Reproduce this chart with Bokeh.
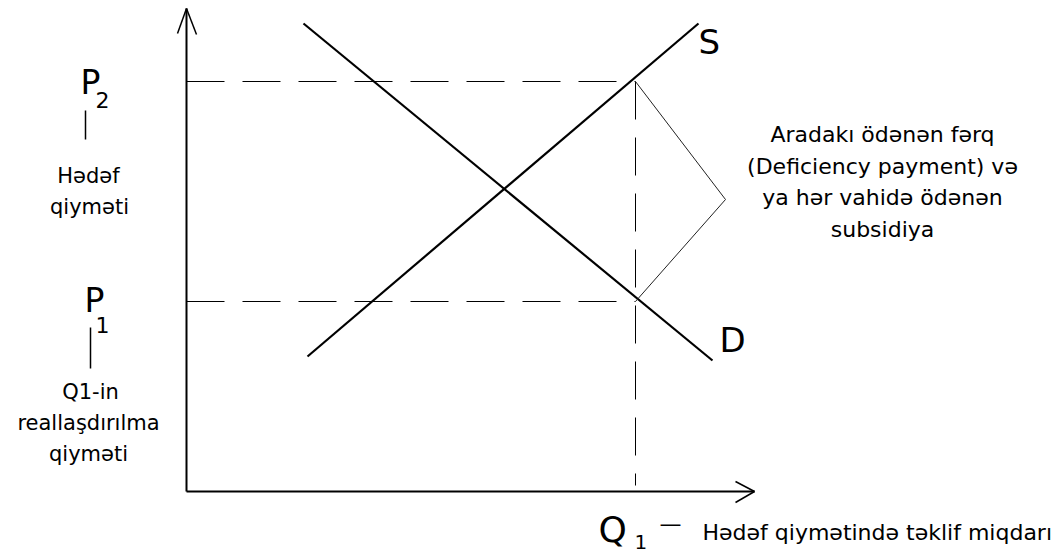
from bokeh.plotting import figure
from bokeh.models import Range1d
from bokeh.core.properties import value
from bokeh.embed import file_html
from bokeh.resources import INLINE

# ---- chart values (quantity horizontally, price vertically; origin = axis corner) ----
q_axis_end = 568
p_axis_end = 483
Q1 = 449
P1 = 190
P2 = 410
supply_q = [121, 512]
supply_p = [135, 468]
demand_q = [117, 526]
demand_p = [468, 131]
bracket_q = [449, 539, 449]
bracket_p = [410, 292, 190]

label_S = "S"
label_D = "D"
label_P = "P"
label_Q = "Q"
sub_P2 = "2"
sub_P1 = "1"
sub_Q1 = "1"
p2_text = ["Hədəf", "qiyməti"]
p1_text = ["Q1-in", "reallaşdırılma", "qiyməti"]
q1_text = "Hədəf qiymətində təklif miqdarı"
note_text = ["Aradakı ödənən fərq", "(Deficiency payment) və", "ya hər vahidə ödənən", "subsidiya"]

FONT = value("DejaVu Sans")

p = figure(width=1061, height=558, output_backend="svg", toolbar_location=None,
           x_axis_type=None, y_axis_type=None, min_border=0,
           x_range=Range1d(-186, 875), y_range=Range1d(-67, 491))
p.outline_line_color = None
p.background_fill_color = "white"
p.border_fill_color = "white"

# axes with open arrows
p.line([0, 0], [0, p_axis_end], line_color="black", line_width=2)
p.line([0, q_axis_end], [0, 0], line_color="black", line_width=2)
p.segment(x0=[0, 0], y0=[p_axis_end, p_axis_end], x1=[-9, 10], y1=[p_axis_end - 25, p_axis_end - 26],
          line_color="black", line_width=1.5)
p.segment(x0=[q_axis_end, q_axis_end], y0=[0, 0], x1=[q_axis_end - 19, q_axis_end - 19], y1=[10, -11],
          line_color="black", line_width=1.5)

# dashed guide lines
p.line([0, Q1], [P2, P2], line_color="black", line_width=1, line_dash="38 18")
p.line([0, Q1], [P1, P1], line_color="black", line_width=1, line_dash="38 18")
p.line([Q1, Q1], [P2, 6], line_color="black", line_width=1, line_dash="38 18")

# supply and demand
p.line(supply_q, supply_p, line_color="black", line_width=2.2)
p.line(demand_q, demand_p, line_color="black", line_width=2.2)

# bracket
p.line(bracket_q, bracket_p, line_color="#222222", line_width=1)

# big letters
p.text(x=[512, 533], y=[450, 152], text=[label_S, label_D], text_font=FONT,
       text_font_size="34px", text_baseline="alphabetic", text_align="left", text_color="black")
p.text(x=[-106, -102], y=[409, 191], text=[label_P, label_P], text_font=FONT,
       text_font_size="33px", text_baseline="alphabetic", text_align="left", text_color="black")
p.text(x=[-91, -91], y=[392, 167], text=[sub_P2, sub_P1], text_font=FONT,
       text_font_size="22px", text_baseline="alphabetic", text_align="left", text_color="black")
p.text(x=[412], y=[-38], text=[label_Q], text_font=FONT,
       text_font_size="36px", text_baseline="alphabetic", text_align="left", text_color="black")
p.text(x=[448], y=[-50], text=[sub_Q1], text_font=FONT,
       text_font_size="20px", text_baseline="alphabetic", text_align="left", text_color="black")

# small vertical ticks under P labels
p.segment(x0=[-101, -96], y0=[381, 164], x1=[-101, -96], y1=[352, 123], line_color="black", line_width=1.5)

# left descriptions
p.text(x=[-98, -97], y=[315.5, 284.5], text=p2_text, text_font=FONT, text_font_size="21px",
       text_baseline="alphabetic", text_align="center", text_color="black")
p.text(x=[-96, -98, -98], y=[99.5, 68.5, 37.5], text=p1_text, text_font=FONT, text_font_size="21px",
       text_baseline="alphabetic", text_align="center", text_color="black")

# Q1 description
p.text(x=[473], y=[-32], text=["—"], text_font=FONT, text_font_size="22px",
       text_baseline="alphabetic", text_align="left", text_color="black")
p.text(x=[516], y=[-41], text=[q1_text], text_font=FONT, text_font_size="22px",
       text_baseline="alphabetic", text_align="left", text_color="black")

# note
p.text(x=[696, 696, 696, 696], y=[357, 325, 294, 262], text=note_text, text_font=FONT,
       text_font_size="22px", text_baseline="alphabetic", text_align="center", text_color="black")

open("out.html", "w").write(file_html(p, INLINE))
